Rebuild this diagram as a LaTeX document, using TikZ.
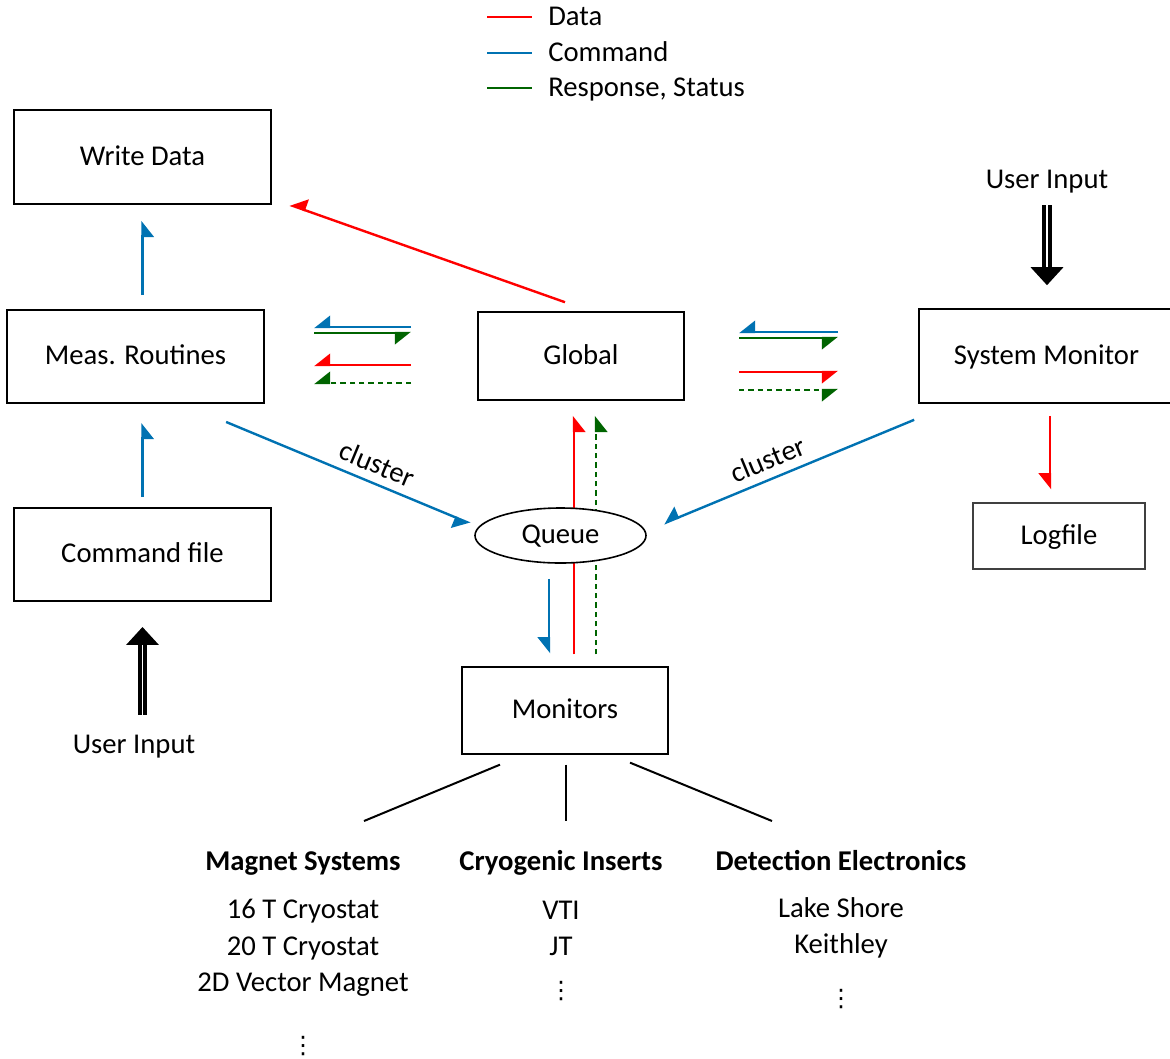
\documentclass[tikz,border=0pt]{standalone}
\usepackage{fontspec}
\setmainfont{Carlito}
\newfontfamily\symfont{DejaVu Sans}
\usetikzlibrary{arrows.meta,shapes.geometric}
\definecolor{datared}{RGB}{255,0,0}
\definecolor{cmdblue}{RGB}{0,114,178}
\definecolor{respgreen}{RGB}{0,100,0}

\begin{document}
\begin{tikzpicture}[x=0.75pt, y=-0.75pt, font=\fontsize{21.5}{26}\selectfont,
	every node/.style={text height=15pt, text depth=3pt},
	box/.style={rectangle, draw, line width=1.2pt, minimum height=70pt, inner sep=0pt},
	half/.style={-{Triangle[harpoon, swap, length=11pt, width=17pt]}, line width=1.8pt},
	data/.style={half, datared},
	cmd/.style={half, cmdblue},
	resp/.style={half, respgreen},
	status/.style={resp, dash pattern=on 4pt off 3pt},
	userin/.style={-{Triangle[length=13.5pt, width=24pt]}, double, double distance=1.2pt, line width=2.8pt},
	head/.style={font=\fontsize{21.5}{26}\selectfont\bfseries},
	dots/.style={font=\fontsize{18}{20}\selectfont\symfont, text height=12pt, text depth=0pt, inner sep=0pt},
	legend/.style={anchor=west, inner sep=0pt}]
	\useasboundingbox (0,0) rectangle (1170,1058);

	% legend
	\node[legend] (LD) at (548,17) {Data};
	\node[legend] (LC) at (548,53) {Command};
	\node[legend] (LR) at (548,88) {Response, Status};
	\draw[datared, line width=1.8pt] ([xshift=-45.75pt]LD.west) -- ([xshift=-12pt]LD.west);
	\draw[cmdblue, line width=1.8pt] ([xshift=-45.75pt]LC.west) -- ([xshift=-12pt]LC.west);
	\draw[respgreen, line width=1.8pt] ([xshift=-45.75pt]LR.west) -- ([xshift=-12pt]LR.west);

	% boxes
	\node[box, minimum width=192.75pt, minimum height=70.5pt] (WD) at (142.5,157) {Write Data};
	\node[box, minimum width=192.75pt] (MR) at (135.5,356.5) {Meas. Routines};
	\node[box, minimum width=192.75pt] (CF) at (142.5,554.5) {Command file};
	\node[box, minimum width=154.5pt, minimum height=66pt] (GL) at (581,356) {Global};
	\node[box, minimum width=191.25pt, minimum height=70.5pt] (SM) at (1046.5,356) {System Monitor};
	\node[box, minimum width=129pt, minimum height=49.5pt, line width=0.9pt, draw=black!75] (LF) at (1059,536) {Logfile};
	\node[box, minimum width=154.5pt, minimum height=65pt] (MO) at (565,710.5) {Monitors};
	\node (UI1) at (134,745) {User Input};
	\node (UI2) at (1047,180) {User Input};

	% user input
	\draw[userin, shorten <=10pt, shorten >=18.75pt] (UI1.north -| CF.south) -- (CF.south);
	\draw[userin, shorten <=6.4pt, shorten >=17.25pt] (UI2.south) -- (UI2.south |- SM.north);

	% meas. routines side
	\draw[cmd, shorten <=10.5pt, shorten >=12pt] (MR.north -| WD.south) -- (WD.south);
	\draw[cmd, shorten <=7.5pt, shorten >=14.25pt] (CF.north) -- (CF.north |- MR.south);
	\draw[data] ([xshift=-12pt, yshift=6.75pt]GL.north) -- ([xshift=13.5pt]WD.south east);

	\coordinate (MRa) at (314,327);  \coordinate (GLa) at (411,327);
	\coordinate (MRb) at (314,333);  \coordinate (GLb) at (411,333);
	\coordinate (MRc) at (314,365);  \coordinate (GLc) at (411,365);
	\coordinate (MRd) at (314,383);  \coordinate (GLd) at (411,383);
	\draw[cmd] (GLa) -- (MRa);
	\draw[resp] (MRb) -- (GLb);
	\draw[data] (GLc) -- (MRc);
	\draw[status] (GLd) -- (MRd);

	% system monitor side
	\coordinate (GLe) at (739,332);  \coordinate (SMe) at (838,332);
	\coordinate (GLf) at (739,338);  \coordinate (SMf) at (838,338);
	\coordinate (GLg) at (739,372);  \coordinate (SMg) at (838,372);
	\coordinate (GLh) at (739,390);  \coordinate (SMh) at (838,390);
	\draw[cmd] (SMe) -- (GLe);
	\draw[resp] (GLf) -- (SMf);
	\draw[data] (GLg) -- (SMg);
	\draw[status] (GLh) -- (SMh);
	\draw[data, shorten <=9pt, shorten >=9.75pt] ([xshift=2.625pt]SM.south) -- ([xshift=2.625pt]SM.south |- LF.north);

	% monitors to global, behind the queue
	\draw[data, shorten <=9pt, shorten >=11.25pt] ([xshift=6.75pt]MO.north) -- ([xshift=6.75pt]MO.north |- GL.south);
	\draw[status, shorten <=9pt, shorten >=11.25pt] ([xshift=23.25pt]MO.north) -- ([xshift=23.25pt]MO.north |- GL.south);

	\node[ellipse, draw, line width=1.2pt, fill=white, minimum width=128.25pt, minimum height=41.25pt, inner sep=0pt] (Q) at (560.5,535.5) {Queue};

	\draw[cmd] ([xshift=-29pt, yshift=-13.5pt]MR.south east) -- ([xshift=-3pt, yshift=9pt]Q.west)
		node[pos=0.59, above, sloped, text=black] {cluster};
	\draw[cmd] ([xshift=-3pt, yshift=-12pt]SM.south west) -- ([xshift=12.75pt, yshift=9pt]Q.east)
		node[pos=0.556, above, sloped, text=black] {cluster};
	\draw[cmd, shorten <=11.25pt, shorten >=9.75pt] ([xshift=-8.625pt]Q.south) -- ([xshift=-8.625pt]Q.south |- MO.north);

	% devices
	\node[head] (MS) at (303,862) {Magnet Systems};
	\node[head] (CI) at (561,862) {Cryogenic Inserts};
	\node[head] (DE) at (841,862) {Detection Electronics};
	\coordinate (MSt) at (364,821);
	\coordinate (CIt) at (566,821);
	\coordinate (DEt) at (772,821);
	\draw[line width=1.5pt] ([xshift=-48.75pt, yshift=-7.5pt]MO.south) -- (MSt);
	\draw[line width=1.5pt] ([xshift=0.75pt, yshift=-7.5pt]MO.south) -- (CIt);
	\draw[line width=1.5pt] ([xshift=48.75pt, yshift=-6pt]MO.south) -- (DEt);

	\node (M1) at (303,910) {16 T Cryostat};
	\node (M2) at (303,947) {20 T Cryostat};
	\node (M3) at (303,983) {2D Vector Magnet};
	\node[dots] (M4) at (303,1045) {⋮};
	\node (C1) at (561,911) {VTI};
	\node (C2) at (561,947) {JT};
	\node[dots] (C3) at (561,990) {⋮};
	\node (D1) at (841,909) {Lake Shore};
	\node (D2) at (841,945) {Keithley};
	\node[dots] (D3) at (841,998) {⋮};
\end{tikzpicture}
\end{document}
